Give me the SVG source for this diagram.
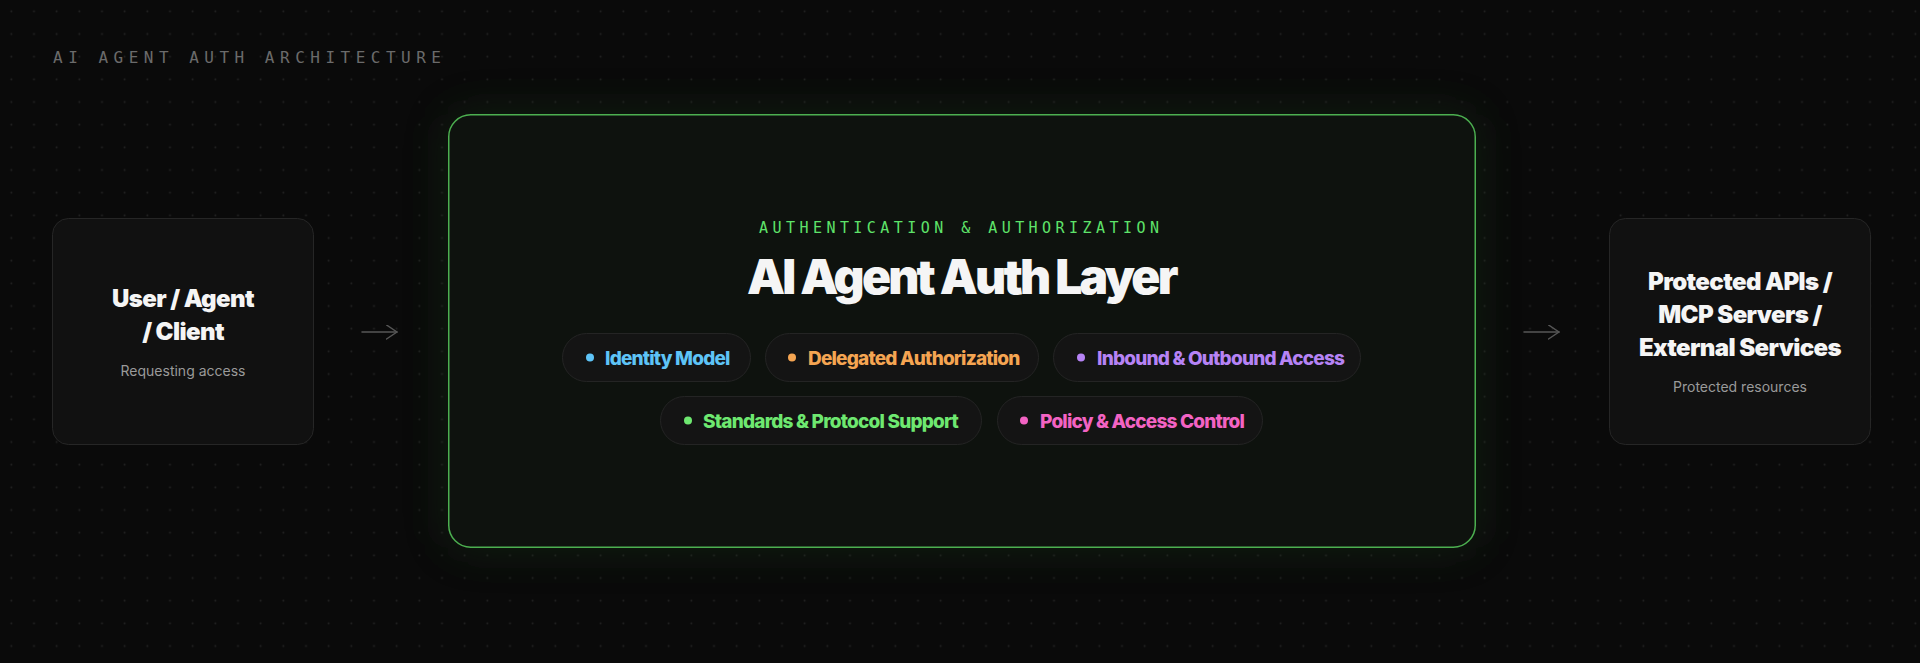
<svg xmlns="http://www.w3.org/2000/svg" width="1920" height="663" viewBox="0 0 1920 663">
  <style>
    .mono { font-family: "DejaVu Sans Mono", "Liberation Mono", monospace; }
    .head { font-family: Inter, "Noto Sans", sans-serif; font-weight: 900; fill: #f5f5f5; }
    .sub { font-family: Inter, "Noto Sans", sans-serif; font-weight: 400; fill: #9a9a9a; font-size: 14px; }
    .side { fill: #111111; stroke: #262626; stroke-width: 1; }
    .pill { fill: #141414; stroke: #242424; stroke-width: 1; }
    .ptxt { font-family: Inter, "Noto Sans", sans-serif; font-weight: 800; font-size: 19px; letter-spacing: -0.8px; }
    .conn { stroke: #575757; stroke-width: 1.5; fill: none; stroke-linecap: round; stroke-linejoin: round; }
  </style>
  <defs>
    <pattern id="dots" x="0" y="0" width="22.667" height="22.667" patternUnits="userSpaceOnUse">
      <circle cx="11.333" cy="11.333" r="0.9" fill="#242424"/>
    </pattern>
    <filter id="glow" x="-20%" y="-30%" width="140%" height="160%">
      <feGaussianBlur stdDeviation="22"/>
    </filter>
    <marker id="arrow" markerWidth="14" markerHeight="16" refX="11" refY="7.5" orient="auto" markerUnits="userSpaceOnUse">
      <path d="M0.5,0.5 L11,7.5 L0.5,14.5" fill="none" stroke="#575757" stroke-width="1.5" stroke-linecap="round" stroke-linejoin="round"/>
    </marker>
  </defs>

  <rect width="1920" height="663" fill="#0a0a0a"/>
  <rect width="1920" height="663" fill="url(#dots)"/>

  <text class="mono" x="53" y="63" font-size="16" letter-spacing="5.5" fill="#6b6b6b">AI AGENT AUTH ARCHITECTURE</text>

  <g id="connectors">
    <line class="conn" x1="362" y1="332" x2="397" y2="332" marker-end="url(#arrow)"/>
    <line class="conn" x1="1524" y1="332" x2="1559" y2="332" marker-end="url(#arrow)"/>
  </g>

  <g id="node-client">
    <rect class="side" x="52.5" y="218.5" width="261" height="226" rx="16"/>
    <text class="head" x="183" y="307" font-size="24" letter-spacing="-0.6" text-anchor="middle">User / Agent</text>
    <text class="head" x="183" y="339.5" font-size="24" letter-spacing="-0.6" text-anchor="middle">/ Client</text>
    <text class="sub" x="183" y="376" text-anchor="middle">Requesting access</text>
  </g>

  <g id="node-auth-layer">
    <rect x="448" y="114" width="1028" height="434" rx="22" fill="#1f3a1f" opacity="0.45" filter="url(#glow)"/>
    <rect x="448.75" y="114.75" width="1026.5" height="432.5" rx="22" fill="#0e120e" stroke="#4caf50" stroke-width="1.5"/>
    <text class="mono" x="759" y="232.5" font-size="15" letter-spacing="4.45" fill="#5ee36a">AUTHENTICATION &amp; AUTHORIZATION</text>
    <text class="head" x="747" y="293.5" font-size="48" letter-spacing="-2.8">AI Agent Auth Layer</text>

    <g id="pill-identity">
      <rect class="pill" x="562.5" y="333.5" width="188" height="48" rx="24"/>
      <circle cx="590" cy="357.5" r="4" fill="#5ec4f7"/>
      <text class="ptxt" x="605" y="364.5" fill="#5ec4f7">Identity Model</text>
    </g>
    <g id="pill-delegated">
      <rect class="pill" x="765.5" y="333.5" width="273" height="48" rx="24"/>
      <circle cx="792" cy="357.5" r="4" fill="#f5a552"/>
      <text class="ptxt" x="808" y="364.5" fill="#f5a552">Delegated Authorization</text>
    </g>
    <g id="pill-inbound">
      <rect class="pill" x="1053.5" y="333.5" width="307" height="48" rx="24"/>
      <circle cx="1081" cy="357.5" r="4" fill="#b683f5"/>
      <text class="ptxt" x="1097" y="364.5" fill="#b683f5">Inbound &amp; Outbound Access</text>
    </g>
    <g id="pill-standards">
      <rect class="pill" x="660.5" y="396.5" width="321" height="48" rx="24"/>
      <circle cx="688" cy="420.5" r="4" fill="#6ee870"/>
      <text class="ptxt" x="703" y="427.5" fill="#6ee870">Standards &amp; Protocol Support</text>
    </g>
    <g id="pill-policy">
      <rect class="pill" x="997.5" y="396.5" width="265" height="48" rx="24"/>
      <circle cx="1024" cy="420.5" r="4" fill="#f363c3"/>
      <text class="ptxt" x="1040" y="427.5" fill="#f363c3">Policy &amp; Access Control</text>
    </g>
  </g>

  <g id="node-resources">
    <rect class="side" x="1609.5" y="218.5" width="261" height="226" rx="16"/>
    <text class="head" x="1740" y="290" font-size="24" letter-spacing="-0.6" text-anchor="middle">Protected APIs /</text>
    <text class="head" x="1740" y="323" font-size="24" letter-spacing="-0.6" text-anchor="middle">MCP Servers /</text>
    <text class="head" x="1740" y="356" font-size="24" letter-spacing="-0.6" text-anchor="middle">External Services</text>
    <text class="sub" x="1740" y="392" text-anchor="middle">Protected resources</text>
  </g>
</svg>
